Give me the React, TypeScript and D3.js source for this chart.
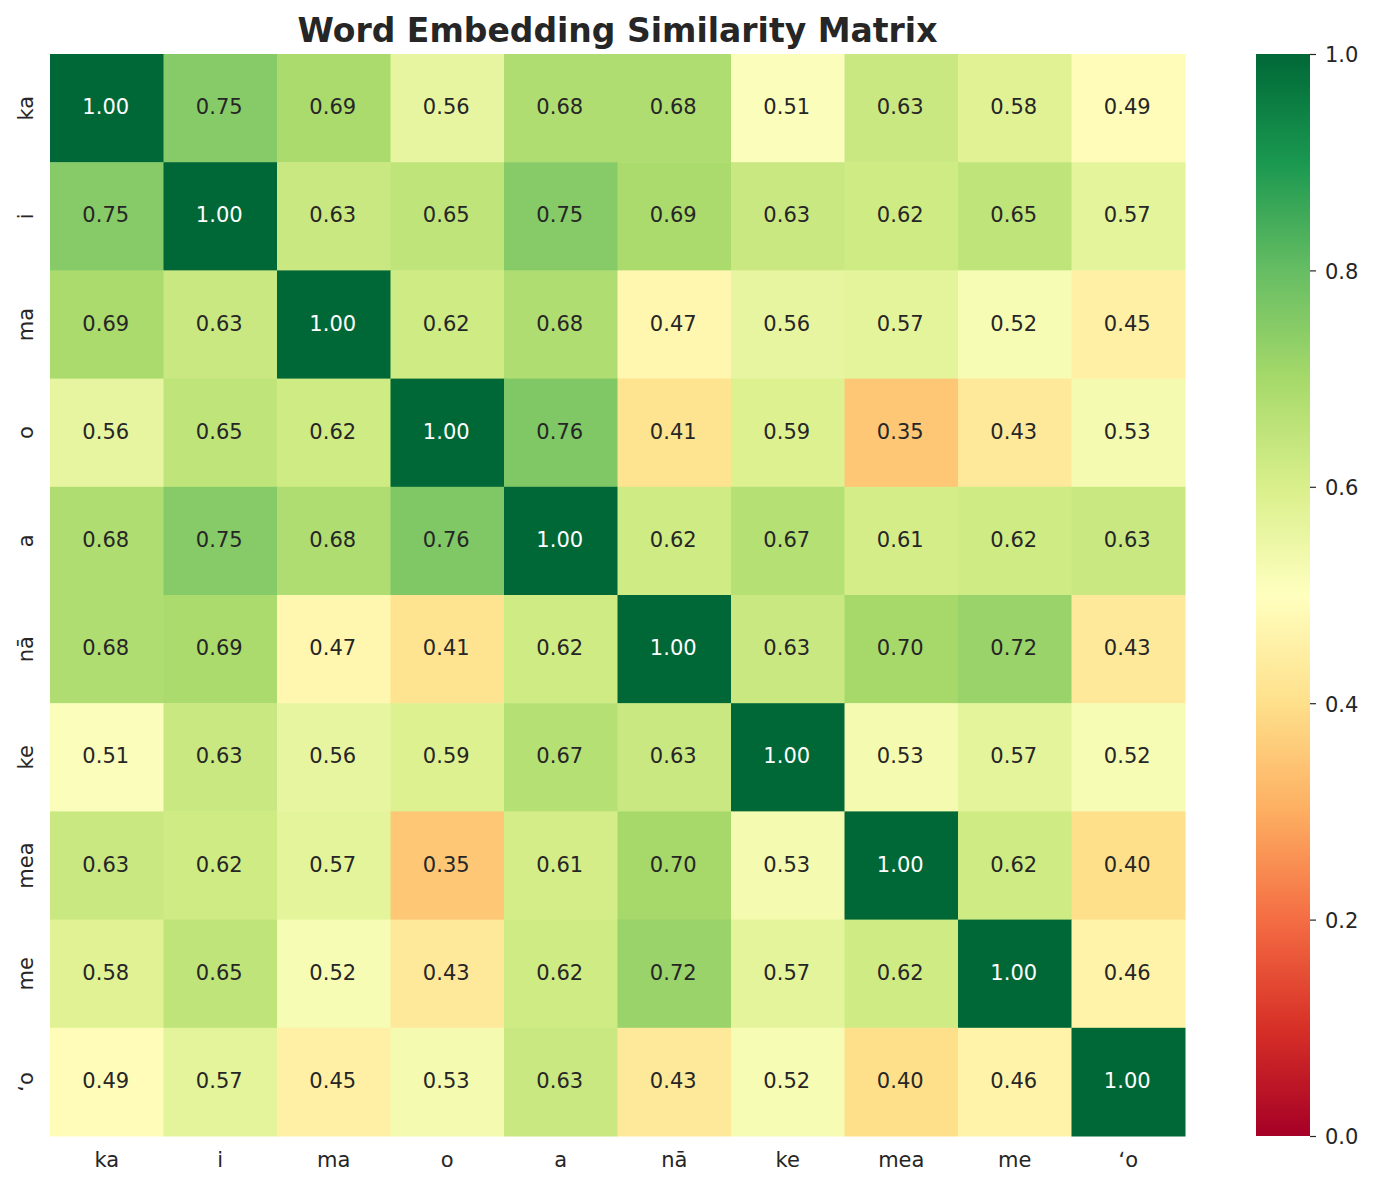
import React, { useEffect, useRef } from "react";
import * as d3 from "d3";

const words = ["ka", "i", "ma", "o", "a", "nā", "ke", "mea", "me", "ʻo"];

const rowKa = [1.0, 0.75, 0.69, 0.56, 0.68, 0.68, 0.51, 0.63, 0.58, 0.49];
const rowI = [0.75, 1.0, 0.63, 0.65, 0.75, 0.69, 0.63, 0.62, 0.65, 0.57];
const rowMa = [0.69, 0.63, 1.0, 0.62, 0.68, 0.47, 0.56, 0.57, 0.52, 0.45];
const rowO = [0.56, 0.65, 0.62, 1.0, 0.76, 0.41, 0.59, 0.35, 0.43, 0.53];
const rowA = [0.68, 0.75, 0.68, 0.76, 1.0, 0.62, 0.67, 0.61, 0.62, 0.63];
const rowNa = [0.68, 0.69, 0.47, 0.41, 0.62, 1.0, 0.63, 0.7, 0.72, 0.43];
const rowKe = [0.51, 0.63, 0.56, 0.59, 0.67, 0.63, 1.0, 0.53, 0.57, 0.52];
const rowMea = [0.63, 0.62, 0.57, 0.35, 0.61, 0.7, 0.53, 1.0, 0.62, 0.4];
const rowMe = [0.58, 0.65, 0.52, 0.43, 0.62, 0.72, 0.57, 0.62, 1.0, 0.46];
const rowOkina = [0.49, 0.57, 0.45, 0.53, 0.63, 0.43, 0.52, 0.4, 0.46, 1.0];

const matrix = [rowKa, rowI, rowMa, rowO, rowA, rowNa, rowKe, rowMea, rowMe, rowOkina];
const colorbarTicks = [0, 0.2, 0.4, 0.6, 0.8, 1.0];

const W = 1373;
const H = 1186;
const font = "DejaVu Sans, sans-serif";
const ink = "#262626";
const fs = 21;

export default function App() {
  const ref = useRef<SVGSVGElement>(null);

  useEffect(() => {
    const svg = d3.select(ref.current);
    svg.selectAll("*").remove();

    const left = 50, right = 1185, top = 54, bottom = 1136;
    const x = d3.scaleBand().domain(words).range([left, right]);
    const y = d3.scaleBand().domain(words).range([top, bottom]);

    // matplotlib's RdYlGn is linear through the 11 brewer colours
    const stops = d3.schemeRdYlGn[11] as string[];
    const color = d3
      .scaleLinear<string>()
      .domain(d3.range(11).map((i) => i / 10))
      .range(stops)
      .interpolate(d3.interpolateRgb)
      .clamp(true);

    const cells = matrix.flatMap((row, i) =>
      row.map((v, j) => ({ r: words[i], c: words[j], v }))
    );

    svg
      .append("g")
      .selectAll("rect")
      .data(cells)
      .enter()
      .append("rect")
      .attr("x", (d) => x(d.c)!)
      .attr("y", (d) => y(d.r)!)
      .attr("width", x.bandwidth() + 0.5)
      .attr("height", y.bandwidth() + 0.5)
      .attr("fill", (d) => color(d.v));

    svg
      .append("g")
      .selectAll("text")
      .data(cells)
      .enter()
      .append("text")
      .attr("x", (d) => x(d.c)! + x.bandwidth() / 2 - 1)
      .attr("y", (d) => y(d.r)! + y.bandwidth() / 2 + 6)
      .attr("text-anchor", "middle")
      .attr("font-family", font)
      .attr("font-size", fs)
      .attr("fill", (d) => (d.v > 0.85 ? "#ffffff" : ink))
      .text((d) => d.v.toFixed(2));

    // x tick labels
    svg
      .append("g")
      .selectAll("text")
      .data(words)
      .enter()
      .append("text")
      .attr("x", (d) => x(d)! + x.bandwidth() / 2)
      .attr("y", bottom + 31)
      .attr("text-anchor", "middle")
      .attr("font-family", font)
      .attr("font-size", fs)
      .attr("fill", ink)
      .text((d) => d);

    // y tick labels (rotated)
    svg
      .append("g")
      .selectAll("text")
      .data(words)
      .enter()
      .append("text")
      .attr("transform", (d) => `translate(33,${y(d)! + y.bandwidth() / 2}) rotate(-90)`)
      .attr("text-anchor", "middle")
      .attr("font-family", font)
      .attr("font-size", fs)
      .attr("fill", ink)
      .text((d) => d);

    // title
    svg
      .append("text")
      .attr("x", (left + right) / 2)
      .attr("y", 42)
      .attr("text-anchor", "middle")
      .attr("font-family", font)
      .attr("font-weight", "bold")
      .attr("font-size", 33)
      .attr("fill", ink)
      .text("Word Embedding Similarity Matrix");

    // colorbar
    const cbX = 1256, cbW = 54;
    const cy = d3.scaleLinear().domain([0, 1]).range([bottom, top]);
    const defs = svg.append("defs");
    const grad = defs
      .append("linearGradient")
      .attr("id", "cbar")
      .attr("x1", 0)
      .attr("y1", 1)
      .attr("x2", 0)
      .attr("y2", 0);
    stops.forEach((c, i) => {
      grad.append("stop").attr("offset", i / 10).attr("stop-color", c);
    });
    svg
      .append("rect")
      .attr("x", cbX)
      .attr("y", top)
      .attr("width", cbW)
      .attr("height", bottom - top)
      .attr("fill", "url(#cbar)");

    const ax = svg
      .append("g")
      .attr("transform", `translate(${cbX + cbW},0)`)
      .call(
        d3
          .axisRight(cy)
          .tickValues(colorbarTicks)
          .tickFormat(d3.format(".1f"))
          .tickSize(6)
          .tickPadding(9)
      );
    ax.select(".domain").remove();
    ax.selectAll("line").attr("stroke", ink).attr("stroke-width", 1.2);
    ax.selectAll("text")
      .attr("dy", "0.38em")
      .attr("font-family", font)
      .attr("font-size", fs)
      .attr("fill", ink);
  }, []);

  return (
    <svg
      ref={ref}
      width={W}
      height={H}
      style={{ position: "absolute", left: 0, top: 0, background: "#ffffff" }}
    />
  );
}
